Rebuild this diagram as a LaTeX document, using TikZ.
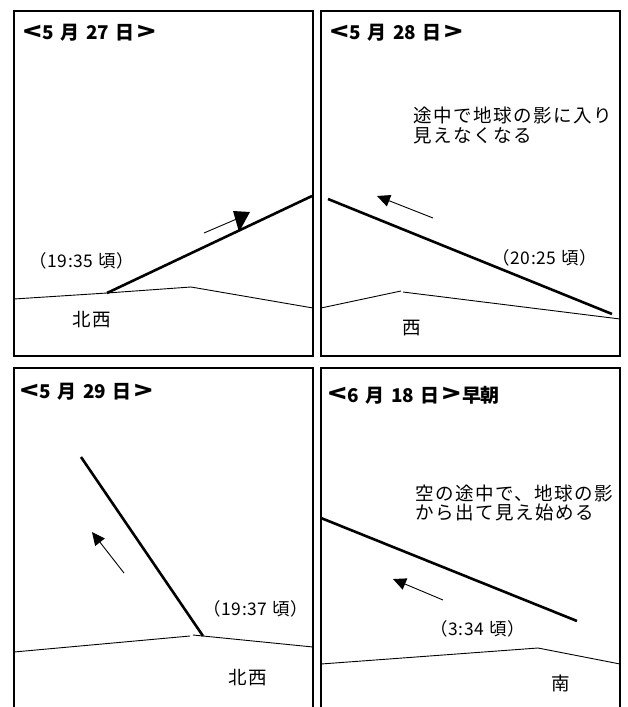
\documentclass[tikz,border=0pt]{standalone}
\usepackage{fontspec}
\setmainfont{Noto Sans CJK JP}
\newfontfamily\jpsp[LetterSpace=8]{Noto Sans CJK JP}
\newfontfamily\jptm[LetterSpace=4]{Noto Sans CJK JP}
\newfontfamily\jpttl[WordSpace=1.5]{Noto Sans CJK JP}
\usetikzlibrary{arrows.meta}
\newcommand{\lbr}{\raisebox{-0.3bp}{\scalebox{1.6}[1.25]{<}}\hspace{1bp}}
\newcommand{\rbr}{\hspace{3bp}\raisebox{-0.3bp}{\scalebox{1.6}[1.25]{>}}}
\tikzset{
  panel/.style={line width=2.2bp},
  ground/.style={line width=0.9bp},
  path/.style={line width=2.6bp},
  motion/.style={line width=0.9bp,-{Triangle[length=13bp,width=12bp]}},
  title/.style={anchor=west,inner sep=0pt,font=\jpttl\fontsize{19}{20}\selectfont\bfseries},
  body/.style={anchor=west,inner sep=0pt,align=left,font=\jpsp\fontsize{18.6}{20}\selectfont},
  timelbl/.style={inner sep=0pt,font=\jptm\fontsize{17.5}{20}\selectfont},
  dirlbl/.style={anchor=west,inner sep=0pt,font=\jpsp\fontsize{18.6}{20}\selectfont}
}
\begin{document}
\begin{tikzpicture}[x=1bp,y=-1bp]
\useasboundingbox (0,0) rectangle (628,707);
\fill[white] (0,0) rectangle (628,707);
% panel frames
\draw[panel] (14,11) rectangle (313,356);
\draw[panel] (321,11) rectangle (620,356);
\draw[panel] (14,709) -- (14,368) -- (313,368) -- (313,709);
\draw[panel] (321,709) -- (321,368) -- (620,368) -- (620,709);

% ---------- panel 1 ----------
\node[title] (t1) at (23,33) {\lbr 5 月 27 日\rbr};
\coordinate (g1a) at (14,299);
\coordinate (g1b) at (107,293);
\coordinate (g1c) at (191,287);
\coordinate (g1d) at (313,308);
\draw[ground] (g1a) -- (g1b) -- (g1c) -- (g1d);
\coordinate (p1e) at (312,196);
\draw[path] (g1b) -- (p1e);
\coordinate (a1s) at (204,233);
\coordinate (a1e) at (239,218);
\draw[ground] (a1s) -- (a1e);
\fill (233,211) -- (250,212) -- (239,232) -- cycle;
\node[timelbl] (l1) at (81.5,261) {（19:35 頃）};
\node[dirlbl] (d1) at (72,320) {北西};

% ---------- panel 2 ----------
\node[title] (t2) at (330,33) {\lbr 5 月 28 日\rbr};
\node[body] (b2) at (413,125) {途中で地球の影に入り\\見えなくなる};
\coordinate (p2s) at (328,199);
\coordinate (p2e) at (612,314);
\draw[path] (p2s) -- (p2e);
\coordinate (a2s) at (433,218);
\coordinate (a2e) at (377,196);
\draw[motion] (a2s) -- (a2e);
\node[timelbl] (l2) at (544.5,258) {（20:25 頃）};
\coordinate (g2a) at (321,308);
\coordinate (g2b) at (401,291);
\coordinate (g2c) at (403,292);
\coordinate (g2d) at (620,319);
\draw[ground] (g2a) -- (g2b);
\draw[ground] (g2c) -- (g2d);
\node[dirlbl] (d2) at (402,328) {西};

% ---------- panel 3 ----------
\node[title] (t3) at (20,392) {\lbr 5 月 29 日\rbr};
\coordinate (p3s) at (81,457);
\coordinate (p3e) at (203,636);
\draw[path] (p3s) -- (p3e);
\coordinate (a3s) at (124,573);
\coordinate (a3e) at (92,532);
\draw[motion] (a3s) -- (a3e);
\node[timelbl] (l3) at (255.5,609) {（19:37 頃）};
\coordinate (g3a) at (14,652);
\coordinate (g3b) at (190,636);
\coordinate (g3c) at (193,635);
\coordinate (g3d) at (313,647);
\draw[ground] (g3a) -- (g3b);
\draw[ground] (g3c) -- (g3d);
\node[dirlbl] (d3) at (228,678) {北西};

% ---------- panel 4 ----------
\node[title] (t4) at (328,395) {\lbr 6 月 18 日\rbr\hspace{1bp}早朝};
\node[body] (b4) at (415,503) {空の途中で、地球の影\\から出て見え始める};
\coordinate (p4s) at (321,518);
\coordinate (p4e) at (577,621);
\draw[path] (p4s) -- (p4e);
\coordinate (a4s) at (443,600);
\coordinate (a4e) at (393,579);
\draw[motion] (a4s) -- (a4e);
\node[timelbl] (l4) at (477.5,629) {（3:34 頃）};
\coordinate (g4a) at (321,664);
\coordinate (g4b) at (538,648);
\coordinate (g4c) at (620,664);
\draw[ground] (g4a) -- (g4b) -- (g4c);
\node[dirlbl] (d4) at (551,683) {南};
\end{tikzpicture}
\end{document}
